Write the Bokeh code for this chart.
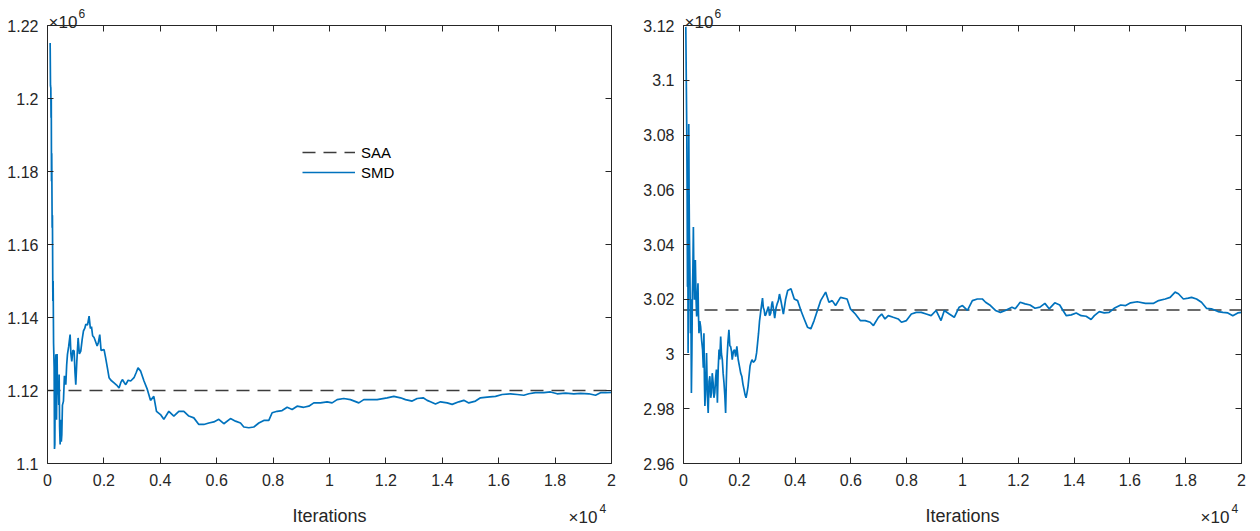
from bokeh.plotting import figure
from bokeh.layouts import row
from bokeh.models import (LinearAxis, FixedTicker, Label, Legend, LegendItem,
                          Range1d, ColumnDataSource, CustomLabelingPolicy)
from bokeh.embed import file_html
from bokeh.resources import INLINE

# ---------------- data (y values in units of 10^6) ----------------
x_ticks = [0, 2000, 4000, 6000, 8000, 10000, 12000, 14000, 16000, 18000, 20000]
x_tick_labels = ["0", "0.2", "0.4", "0.6", "0.8", "1", "1.2", "1.4", "1.6", "1.8", "2"]

left_y_ticks = [1100000, 1120000, 1140000, 1160000, 1180000, 1200000, 1220000]
left_y_tick_labels = ["1.1", "1.12", "1.14", "1.16", "1.18", "1.2", "1.22"]
right_y_ticks = [2960000, 2980000, 3000000, 3020000, 3040000, 3060000, 3080000, 3100000, 3120000]
right_y_tick_labels = ["2.96", "2.98", "3", "3.02", "3.04", "3.06", "3.08", "3.1", "3.12"]

series_names = ["SAA", "SMD"]
saa_left = 1.12
saa_right = 3.0161

left_iters = [
    94, 106, 118, 126, 134, 142, 150, 165, 175, 190,
    200, 215, 236, 248, 260, 275, 295, 320, 340, 354,
    380, 400, 413, 430, 448, 470, 490, 507, 530, 566,
    600, 649, 680, 708, 750, 802, 830, 861, 900, 944,
    975, 1003, 1040, 1086, 1130, 1180, 1230, 1274, 1320, 1357,
    1420, 1475, 1520, 1560, 1600, 1652, 1700, 1760, 1800, 1853,
    1900, 2006, 2060, 2124, 2183, 2250, 2360, 2450, 2537, 2600,
    2655, 2720, 2773, 2860, 2950, 3068, 3150, 3210, 3304, 3422,
    3540, 3652, 3770, 3865, 4007, 4125, 4303, 4480, 4657, 4835,
    5012, 5189, 5366, 5544, 5721, 5898, 6075, 6253, 6489, 6666,
    6844, 6962, 7139, 7316, 7494, 7671, 7848, 7966, 8143, 8320,
    8498, 8675, 8852, 9088, 9266, 9443, 9679, 9916, 10093, 10270,
    10507, 10743, 11039, 11216, 11453, 11689, 12044, 12281, 12517, 12695,
    12931, 13108, 13321, 13463, 13581, 13758, 13936, 14172, 14349, 14586,
    14763, 14940, 15177, 15354, 15590, 15886, 16122, 16418, 16654, 16891,
    17068, 17304, 17600, 17837, 18073, 18369, 18664, 18901, 19197, 19433,
    19610, 19788, 20000,
]
left_smd = [
    1.2152, 1.2035, 1.2029, 1.1947, 1.2000, 1.1773, 1.1850, 1.1646, 1.1680, 1.1445,
    1.1500, 1.1330, 1.1262, 1.1040, 1.1052, 1.1240, 1.1299, 1.1120, 1.1300, 1.1189,
    1.1220, 1.1160, 1.1244, 1.1100, 1.1052, 1.1120, 1.1060, 1.1079, 1.1160, 1.1171,
    1.1240, 1.1216, 1.1270, 1.1299, 1.1320, 1.1353, 1.1300, 1.1280, 1.1310, 1.1308,
    1.1250, 1.1216, 1.1280, 1.1344, 1.1300, 1.1308, 1.1340, 1.1363, 1.1370, 1.1381,
    1.1380, 1.1404, 1.1370, 1.1375, 1.1350, 1.1345, 1.1335, 1.1322, 1.1330, 1.1353,
    1.1310, 1.1312, 1.1290, 1.1262, 1.1235, 1.1228, 1.1221, 1.1215, 1.1207, 1.1222,
    1.1230, 1.1222, 1.1216, 1.1228, 1.1226, 1.1235, 1.1250, 1.1262, 1.1253, 1.1226,
    1.1203, 1.1173, 1.1184, 1.1143, 1.1134, 1.1121, 1.1143, 1.1130, 1.1143, 1.1143,
    1.1130, 1.1125, 1.1107, 1.1107, 1.1111, 1.1114, 1.1121, 1.1109, 1.1123, 1.1116,
    1.1111, 1.1100, 1.1098, 1.1100, 1.1111, 1.1118, 1.1118, 1.1139, 1.1143, 1.1145,
    1.1154, 1.1148, 1.1157, 1.1154, 1.1157, 1.1166, 1.1166, 1.1169, 1.1166, 1.1175,
    1.1178, 1.1175, 1.1166, 1.1175, 1.1175, 1.1175, 1.1180, 1.1184, 1.1180, 1.1175,
    1.1171, 1.1178, 1.1180, 1.1173, 1.1169, 1.1163, 1.1169, 1.1166, 1.1162, 1.1169,
    1.1173, 1.1166, 1.1171, 1.1180, 1.1182, 1.1184, 1.1189, 1.1191, 1.1189, 1.1187,
    1.1191, 1.1194, 1.1194, 1.1196, 1.1191, 1.1193, 1.1191, 1.1192, 1.1191, 1.1187,
    1.1194, 1.1194, 1.1195,
]

right_iters = [
    83, 100, 118, 130, 142, 155, 165, 189, 200, 212,
    230, 248, 265, 283, 300, 319, 335, 354, 370, 390,
    405, 425, 450, 472, 495, 519, 535, 555, 585, 614,
    650, 684, 710, 732, 750, 767, 800, 826, 855, 885,
    915, 944, 975, 1003, 1030, 1062, 1090, 1121, 1150, 1180,
    1200, 1215, 1245, 1274, 1300, 1333, 1360, 1392, 1420, 1451,
    1480, 1510, 1535, 1558, 1590, 1628, 1660, 1688, 1720, 1746,
    1790, 1829, 1870, 1912, 1960, 2006, 2050, 2089, 2130, 2171,
    2210, 2242, 2280, 2313, 2350, 2384, 2420, 2454, 2500, 2537,
    2580, 2620, 2655, 2690, 2725, 2761, 2800, 2832, 2860, 2891,
    2920, 2950, 3000, 3044, 3085, 3127, 3160, 3186, 3230, 3269,
    3320, 3363, 3400, 3440, 3500, 3580, 3660, 3735, 3853, 3970,
    4090, 4208, 4326, 4444, 4563, 4681, 4799, 4917, 5095, 5213,
    5330, 5450, 5627, 5863, 5982, 6159, 6337, 6514, 6691, 6808,
    6986, 7104, 7222, 7340, 7517, 7695, 7812, 7990, 8167, 8344,
    8521, 8699, 8876, 9053, 9230, 9348, 9526, 9704, 9881, 9999,
    10177, 10354, 10531, 10709, 10827, 11004, 11181, 11358, 11535, 11772,
    11890, 12067, 12244, 12421, 12599, 12776, 12953, 13107, 13308, 13485,
    13603, 13722, 13899, 14076, 14253, 14431, 14608, 14726, 14903, 15080,
    15257, 15435, 15671, 15848, 16025, 16262, 16557, 16852, 17030, 17266,
    17443, 17620, 17739, 17916, 18093, 18211, 18388, 18566, 18743, 18920,
    19157, 19334, 19511, 19688, 19866, 20000,
]
right_smd = [
    3.1195, 3.1000, 3.0804, 3.0600, 3.0246, 3.0500, 3.0004, 3.0840, 3.0600, 3.0440,
    3.0300, 3.0076, 3.0200, 2.9858, 3.0000, 3.0222, 3.0300, 3.0464, 3.0300, 3.0198,
    3.0280, 3.0343, 3.0200, 3.0137, 3.0200, 3.0258, 3.0150, 3.0076, 3.0120, 3.0100,
    3.0050, 3.0016, 2.9950, 3.0076, 2.9900, 2.9810, 2.9900, 3.0004, 2.9850, 2.9785,
    2.9900, 2.9919, 2.9840, 2.9858, 2.9930, 2.9895, 2.9840, 2.9858, 2.9910, 2.9943,
    2.9880, 2.9822, 2.9950, 3.0016, 2.9980, 3.0064, 3.0000, 2.9979, 2.9930, 2.9895,
    2.9850, 2.9785, 2.9900, 2.9979, 3.0040, 3.0088, 3.0030, 3.0028, 3.0010, 2.9979,
    3.0010, 3.0016, 2.9990, 3.0028, 2.9980, 2.9955, 2.9930, 2.9919, 2.9890, 2.9870,
    2.9850, 2.9840, 2.9860, 2.9882, 2.9920, 2.9955, 2.9970, 2.9979, 2.9970, 2.9973,
    2.9980, 3.0004, 3.0040, 3.0076, 3.0120, 3.0149, 3.0180, 3.0204, 3.0170, 3.0161,
    3.0140, 3.0143, 3.0160, 3.0173, 3.0140, 3.0149, 3.0180, 3.0192, 3.0160, 3.0131,
    3.0170, 3.0185, 3.0195, 3.0219, 3.0190, 3.0146, 3.0200, 3.0232, 3.0238, 3.0201,
    3.0195, 3.0159, 3.0128, 3.0098, 3.0092, 3.0122, 3.0159, 3.0195, 3.0226, 3.0189,
    3.0195, 3.0177, 3.0207, 3.0201, 3.0165, 3.0146, 3.0122, 3.0122, 3.0116, 3.0104,
    3.0134, 3.0146, 3.0128, 3.0140, 3.0134, 3.0128, 3.0116, 3.0122, 3.0146, 3.0152,
    3.0152, 3.0146, 3.0140, 3.0159, 3.0122, 3.0159, 3.0146, 3.0134, 3.0171, 3.0177,
    3.0159, 3.0195, 3.0201, 3.0201, 3.0189, 3.0177, 3.0159, 3.0152, 3.0159, 3.0171,
    3.0165, 3.0189, 3.0183, 3.0179, 3.0167, 3.0171, 3.0185, 3.0165, 3.0187, 3.0179,
    3.0159, 3.0140, 3.0143, 3.0150, 3.0140, 3.0138, 3.0126, 3.0140, 3.0155, 3.0150,
    3.0152, 3.0167, 3.0179, 3.0177, 3.0187, 3.0191, 3.0185, 3.0185, 3.0195, 3.0201,
    3.0207, 3.0226, 3.0220, 3.0201, 3.0204, 3.0207, 3.0201, 3.0189, 3.0167, 3.0165,
    3.0155, 3.0152, 3.0150, 3.0140, 3.0150, 3.0152,
]

Y_UNIT = 1e6   # plotted values = listed values x 10^6
exponent_base = "\u00d710"   # "x10"
y_exponent = "6"
x_exponent = "4"
x_axis_title = "Iterations"

# ---------------- style ----------------
FONT = "Liberation Sans"
TXT = "#262626"
BLUE = "#0072BD"
DASH_COLOR = "#3c3c3c"

HIDE_ALL = """
const all = Array.from(indices)
for (const i of all) indices.unset(i)
return indices
"""


def style_axis(ax, ticks, labels, show_labels):
    ax.ticker = FixedTicker(ticks=ticks, minor_ticks=[])
    ax.major_label_overrides = {t: s for t, s in zip(ticks, labels)}
    ax.major_tick_in = 6
    ax.major_tick_out = 0
    ax.minor_tick_in = 0
    ax.minor_tick_out = 0
    ax.axis_line_color = TXT
    ax.axis_line_width = 1
    ax.major_tick_line_color = TXT
    ax.major_tick_line_width = 1
    ax.major_label_text_font = FONT
    ax.major_label_text_color = TXT
    if show_labels:
        ax.major_label_text_font_size = "16px"
        ax.major_label_standoff = 9
    else:
        ax.major_label_text_font_size = "1px"
        ax.major_label_standoff = 0
        ax.major_label_policy = CustomLabelingPolicy(code=HIDE_ALL)


def text_label(x, y, dx, dy, text, size, align):
    return Label(x=x, y=y, x_offset=dx, y_offset=dy, text=text, text_font=FONT,
                 text_font_size=size, text_color=TXT, text_baseline="alphabetic",
                 text_align=align)


def make_panel(iters, smd, saa, yticks, ylabels, border_left, border_right, with_legend,
               xexp_dx):
    p = figure(width=630, height=531, output_backend="svg", toolbar_location=None,
               x_range=Range1d(x_ticks[0], x_ticks[-1]),
               y_range=Range1d(yticks[0], yticks[-1]),
               x_axis_type=None, y_axis_type=None,
               min_border_left=border_left, min_border_right=border_right,
               min_border_top=25, min_border_bottom=68)
    p.outline_line_color = None
    p.background_fill_color = "white"
    p.border_fill_color = "white"

    bottom = LinearAxis()
    style_axis(bottom, x_ticks, x_tick_labels, True)
    bottom.major_label_standoff = 10
    p.add_layout(bottom, "below")

    left = LinearAxis()
    style_axis(left, yticks, ylabels, True)
    p.add_layout(left, "left")

    top = LinearAxis()
    style_axis(top, x_ticks, x_tick_labels, False)
    p.add_layout(top, "above")

    right = LinearAxis()
    style_axis(right, yticks, ylabels, False)
    p.add_layout(right, "right")

    saa_src = ColumnDataSource(dict(x=[x_ticks[0], x_ticks[-1]], y=[saa * Y_UNIT, saa * Y_UNIT]))
    r_saa = p.line("x", "y", source=saa_src, line_color=DASH_COLOR, line_width=1.6,
                   line_dash="13 8")
    smd_src = ColumnDataSource(dict(x=iters, y=[v * Y_UNIT for v in smd]))
    r_smd = p.line("x", "y", source=smd_src, line_color=BLUE, line_width=1.7)

    if with_legend:
        legend = Legend(items=[LegendItem(label=series_names[0], renderers=[r_saa]),
                               LegendItem(label=series_names[1], renderers=[r_smd])],
                        location=(255, 281), orientation="vertical",
                        glyph_width=53, glyph_height=20, label_height=20,
                        label_standoff=6, spacing=0, padding=0, margin=0,
                        border_line_alpha=0, background_fill_alpha=0,
                        label_text_font=FONT, label_text_font_size="15px",
                        label_text_color="black")
        p.add_layout(legend)

    # texts outside the frame live in the side panels (not clipped to the frame)
    xmid = (x_ticks[0] + x_ticks[-1]) / 2
    x0, x1 = x_ticks[0], x_ticks[-1]
    y0, y1 = yticks[0], yticks[-1]
    p.add_layout(text_label(x0, y1, 1, 3, exponent_base, "17px", "left"), "above")
    p.add_layout(text_label(x0, y1, 31, 12, y_exponent, "12px", "left"), "right")
    p.add_layout(text_label(xmid, y0, 0, -52, x_axis_title, "18px", "center"), "below")
    p.add_layout(text_label(x1, y0, xexp_dx, -54, exponent_base, "17px", "left"), "below")
    p.add_layout(text_label(x1, y0, xexp_dx + 31, -45, x_exponent, "12px", "left"), "right")
    p.xgrid.visible = False
    p.ygrid.visible = False
    return p


p1 = make_panel(left_iters, left_smd, saa_left, left_y_ticks, left_y_tick_labels, 47, 19, True, -43)
p2 = make_panel(right_iters, right_smd, saa_right, right_y_ticks, right_y_tick_labels, 53, 13, False, -41)

layout = row(p1, p2)
open("out.html", "w").write(file_html(layout, INLINE))
